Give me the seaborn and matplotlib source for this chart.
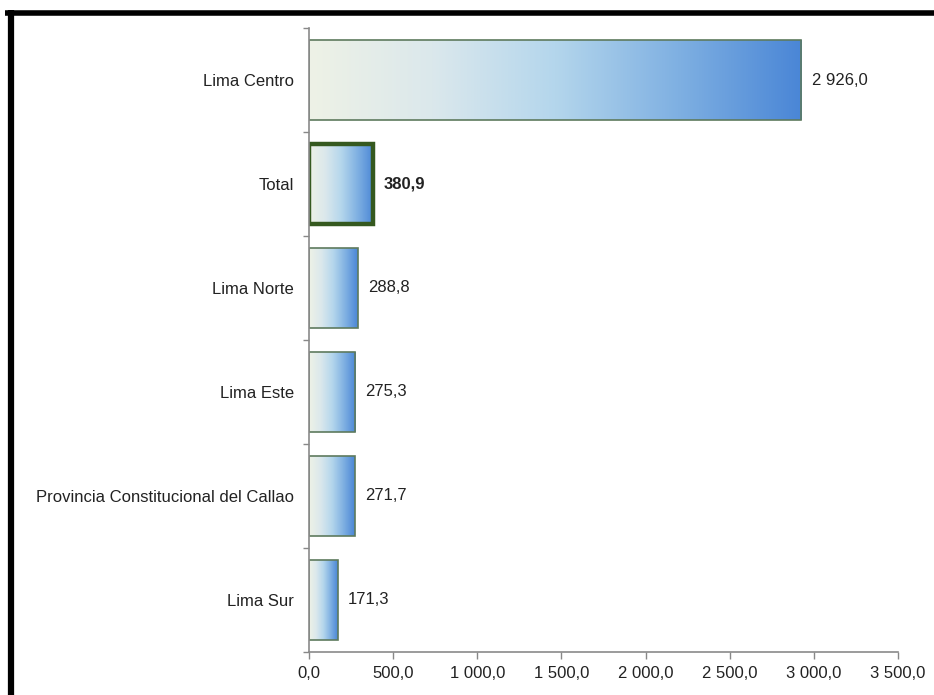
import matplotlib
matplotlib.use("Agg")
import matplotlib.pyplot as plt
import seaborn as sns
import numpy as np
import pandas as pd
from matplotlib.colors import LinearSegmentedColormap
from matplotlib.ticker import FuncFormatter, FixedLocator
from matplotlib.lines import Line2D

# Data
zones = ['Lima Centro', 'Total', 'Lima Norte', 'Lima Este',
         'Provincia Constitucional del Callao', 'Lima Sur']
values = [2926.0, 380.9, 288.8, 275.3, 271.7, 171.3]
value_labels = ['2 926,0', '380,9', '288,8', '275,3', '271,7', '171,3']
x_ticks = [0, 500, 1000, 1500, 2000, 2500, 3000, 3500]

df = pd.DataFrame({'zone': zones, 'value': values})

sns.set_style('white')
plt.rcParams['font.family'] = ['Liberation Sans', 'DejaVu Sans']

fig = plt.figure(figsize=(9.34, 6.95), dpi=100)
ax = fig.add_axes([0.3308, 0.0619, 0.6307, 0.8978])

sns.barplot(data=df, x='value', y='zone', orient='h', ax=ax,
            width=0.77, color='white', edgecolor='#5e7a5e', linewidth=1.2)

# gradient fill inside each bar
grad = LinearSegmentedColormap.from_list(
    'bluegrad', ['#eef2e6', '#dbe8ec', '#b4d6ec', '#7fb0e2', '#4a86d6'])
gvals = np.linspace(0, 1, 256).reshape(1, -1)
for i, patch in enumerate(ax.patches):
    x0, y0 = patch.get_x(), patch.get_y()
    w, h = patch.get_width(), patch.get_height()
    im = ax.imshow(gvals, cmap=grad, aspect='auto',
                   extent=[x0, x0 + w, y0 + h, y0], zorder=1.5)
    im.set_clip_path(patch)
    patch.set_facecolor('none')
    patch.set_zorder(2)
    if zones[i] == 'Total':
        patch.set_edgecolor('#35591f')
        patch.set_linewidth(3.2)

ax.set_xlim(0, 3500)
ax.set_ylim(5.5, -0.5)

for i, (v, lab) in enumerate(zip(values, value_labels)):
    ax.text(v + 60, i, lab, va='center', ha='left', fontsize=12,
            color='#222222', fontweight='bold' if zones[i] == 'Total' else 'normal')

ax.xaxis.set_major_locator(FixedLocator(x_ticks))
ax.xaxis.set_major_formatter(FuncFormatter(
    lambda v, p: ('{:,.1f}'.format(v)).replace(',', ' ').replace('.', ',')))
ax.set_yticks(range(len(zones)))
ax.set_yticks(np.arange(-0.5, len(zones), 1), minor=True)
ax.tick_params(axis='y', which='major', length=0, pad=11, labelsize=12,
               labelcolor='#222222')
ax.tick_params(axis='y', which='minor', length=4, width=1, color='#888888',
               left=True)
ax.tick_params(axis='x', which='major', length=5, width=1, color='#888888',
               bottom=True, labelsize=12, labelcolor='#222222', pad=5)
ax.set_xlabel('')
ax.set_ylabel('')

for side in ['top', 'right']:
    ax.spines[side].set_visible(False)
for side in ['left', 'bottom']:
    ax.spines[side].set_color('#8a8a8a')
    ax.spines[side].set_linewidth(1.2)

# black frame along the top and left edges of the scan
fig.add_artist(Line2D([5 / 934, 1.0], [1 - 12.5 / 695, 1 - 12.5 / 695],
                      transform=fig.transFigure, color='black', linewidth=4,
                      solid_capstyle='butt'))
fig.add_artist(Line2D([11 / 934, 11 / 934], [0, 1 - 10 / 695],
                      transform=fig.transFigure, color='black', linewidth=4.5,
                      solid_capstyle='butt'))

plt.savefig('out.png', dpi=100, facecolor='white')
plt.close()
